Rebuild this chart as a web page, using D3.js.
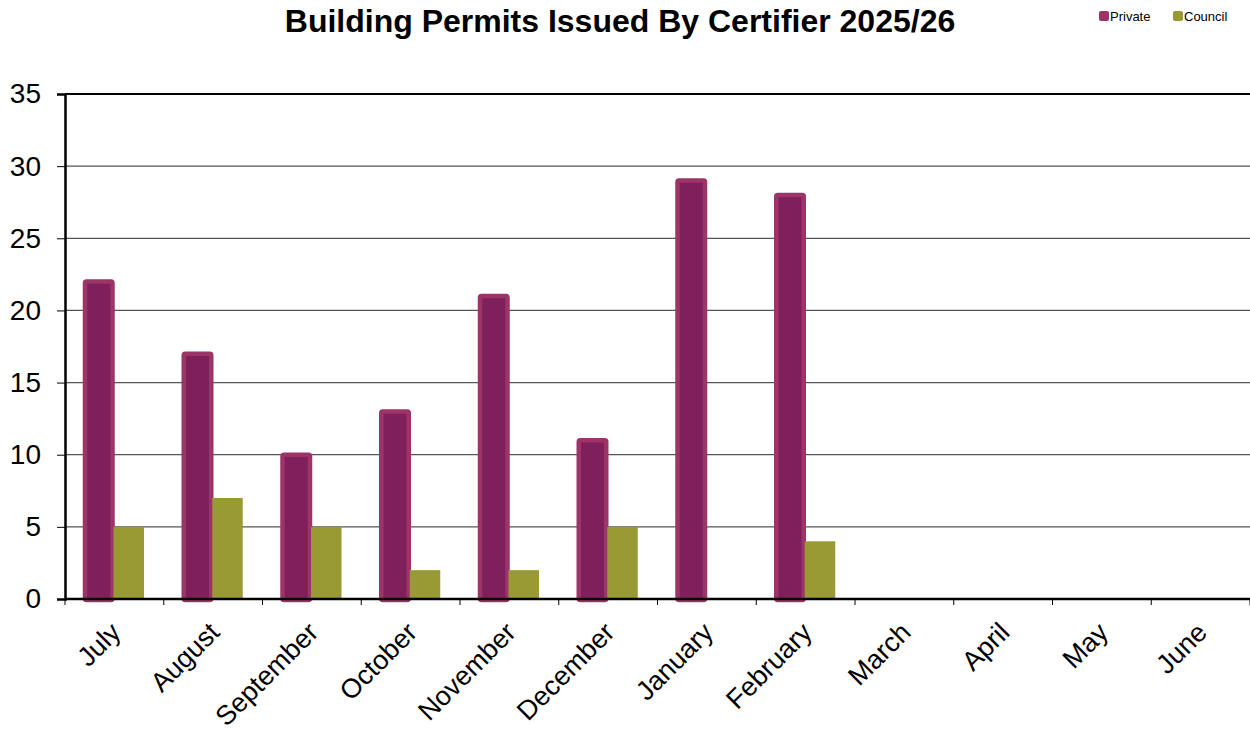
<!DOCTYPE html>
<html>
<head>
<meta charset="utf-8">
<script src="https://cdn.jsdelivr.net/npm/d3@7"></script>
<style>
  body { margin: 0; background: #fff; }
  text { font-family: "Liberation Sans", Arial, sans-serif; }
</style>
</head>
<body>
<div id="chart"></div>
<script>
// data
var months = ["July", "August", "September", "October", "November", "December",
  "January", "February", "March", "April", "May", "June"];
var privateVals = [22, 17, 10, 13, 21, 11, 29, 28, null, null, null, null];
var councilVals = [5, 7, 5, 2, 2, 5, 0, 4, null, null, null, null];
var yTicks = [0, 5, 10, 15, 20, 25, 30, 35];

var svgWidth = 1250;
var svgHeight = 734;
var margin = { top: 94, right: 0, bottom: 135, left: 65 };
var width = svgWidth - margin.left - margin.right;
var height = svgHeight - margin.top - margin.bottom;

var svg = d3.select("#chart")
  .append("svg")
  .attr("width", svgWidth)
  .attr("height", svgHeight);

var chartGroup = svg.append("g")
  .attr("transform", `translate(${margin.left}, ${margin.top})`);

var x = d3.scaleBand()
  .domain(months)
  .range([0, width]);

var y = d3.scaleLinear()
  .domain([0, 35])
  .range([height, 0]);

// gridlines
chartGroup.append("g")
  .selectAll("line")
  .data(yTicks.slice(1))
  .enter()
  .append("line")
  .attr("x1", 0)
  .attr("x2", width)
  .attr("y1", d => y(d))
  .attr("y2", d => y(d))
  .attr("stroke", d => d === 35 ? "#000" : "#555")
  .attr("stroke-width", d => d === 35 ? 2 : 1.2);

// bars
var bw = x.bandwidth();
var barW = 30.5;
var offset = 18;

var rows = months.map((m, i) => ({ m: m, p: privateVals[i], c: councilVals[i] }));

chartGroup.selectAll(".private")
  .data(rows.filter(d => d.p !== null))
  .enter()
  .append("rect")
  .attr("class", "private")
  .attr("x", d => x(d.m) + offset + 2)
  .attr("y", d => y(d.p))
  .attr("width", barW - 3)
  .attr("height", d => height - y(d.p) + 1)
  .attr("rx", 1.5)
  .attr("fill", "#7f1f5c")
  .attr("stroke", "#9d3467")
  .attr("stroke-width", 4.5);

chartGroup.selectAll(".council")
  .data(rows.filter(d => d.c))
  .enter()
  .append("rect")
  .attr("class", "council")
  .attr("x", d => x(d.m) + offset + barW)
  .attr("y", d => y(d.c))
  .attr("width", barW)
  .attr("height", d => height - y(d.c))
  .attr("fill", "#9a9a35");

// axes
var leftAxis = d3.axisLeft(y).tickValues(yTicks).tickSize(8).tickPadding(10);
var yAxis = chartGroup.append("g").call(leftAxis);
yAxis.select(".domain").attr("stroke-width", 2.5);
yAxis.selectAll("text").attr("font-size", 28).attr("fill", "#000")
  .attr("font-family", "Liberation Sans, Arial, sans-serif");
yAxis.selectAll(".tick text").attr("x", -24);

var xAxis = chartGroup.append("g")
  .attr("transform", `translate(0, ${height})`);
xAxis.append("line")
  .attr("x1", 0).attr("x2", width)
  .attr("stroke", "#000").attr("stroke-width", 2.5);
xAxis.selectAll(".xtick")
  .data(months.concat(["end"]))
  .enter()
  .append("line")
  .attr("x1", (d, i) => i * bw)
  .attr("x2", (d, i) => i * bw)
  .attr("y1", 0).attr("y2", 6)
  .attr("stroke", "#000");
xAxis.selectAll(".xlabel")
  .data(months)
  .enter()
  .append("text")
  .attr("text-anchor", "end")
  .attr("font-size", 27)
  .attr("transform", d => `translate(${x(d) + bw / 2 + 8}, ${35}) rotate(-45)`)
  .text(d => d);

// title
svg.append("text")
  .attr("x", 620)
  .attr("y", 32)
  .attr("text-anchor", "middle")
  .attr("font-size", 32)
  .attr("font-weight", "bold")
  .text("Building Permits Issued By Certifier 2025/26");

// legend
var legend = [{ name: "Private", color: "#9d3467" }, { name: "Council", color: "#9a9a35" }];
var lg = svg.append("g").attr("transform", "translate(1099, 11)");
legend.forEach(function(d, i) {
  var g = lg.append("g").attr("transform", `translate(${i * 74}, 0)`);
  g.append("rect").attr("width", 10).attr("height", 10).attr("rx", 2).attr("fill", d.color);
  g.append("text").attr("x", 11).attr("y", 10).attr("font-size", 13).text(d.name);
});
</script>
</body>
</html>
